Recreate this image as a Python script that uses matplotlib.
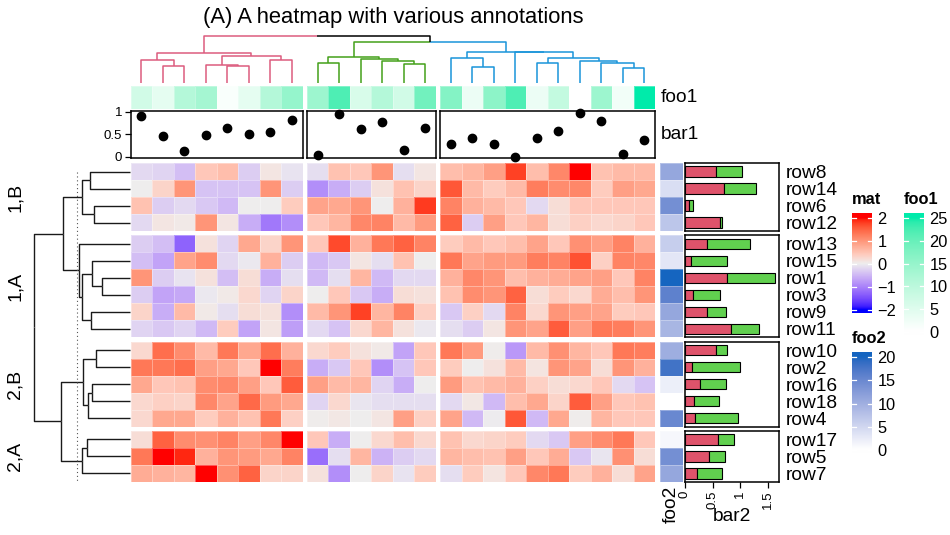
import numpy as np
import matplotlib
matplotlib.use("Agg")
import matplotlib.pyplot as plt
from matplotlib.colors import ListedColormap, Normalize

plt.rcParams['font.family'] = ['Liberation Sans', 'DejaVu Sans']

# ---------------- data ----------------
title = "(A) A heatmap with various annotations"
row_slice_titles = ["1,B", "1,A", "2,B", "2,A"]
row_names = [["row8", "row14", "row6", "row12"],
             ["row13", "row15", "row1", "row3", "row9", "row11"],
             ["row10", "row2", "row16", "row18", "row4"],
             ["row17", "row5", "row7"]]
col_slice_sizes = [8, 6, 10]

# heatmap values, rows in display order; columns: slice1 (8) | slice2 (6) | slice3 (10)
mat_values = [
    [-0.2, -0.25, -0.45, 0.45, 0.55, -0.3, 0.1, -0.1,   -0.15, 0.5, 0.45, 1.0, -0.15, 0.1,   0.55, 0.65, 0.9, 1.75, 0.55, 1.15, 2.1, 0.5, 0.6, 0.6],
    [0.0, 0.3, 1.0, -0.4, -0.4, -0.4, 1.0, -0.3,        -0.9, -0.6, -0.3, 0.15, 0.5, 0.3,    1.6, 0.6, 0.4, 0.6, 1.25, 1.1, 1.15, 0.4, 0.9, 0.8],
    [0.5, -0.3, -0.2, -0.35, -0.5, 0.0, 0.0, 0.4,       0.85, 0.8, 1.0, 0.0, 0.7, 1.8,       1.2, 0.7, 0.6, 0.45, -0.2, 0.2, 0.45, 0.45, 0.45, 0.45],
    [-0.2, 0.1, 0.05, 1.0, 0.1, -0.6, -1.1, -0.9,       0.45, 0.65, 1.15, 1.2, 0.6, 0.95,    1.5, -0.3, 0.9, 0.45, 0.65, 0.2, 0.35, 0.25, 0.3, 0.45],
    [-0.3, -0.45, -1.3, 0.15, -0.25, 0.8, 0.3, 1.0,     0.45, 1.7, 0.7, 1.3, 1.5, 1.2,       0.4, 0.6, 0.45, 0.55, 0.85, 0.45, 1.05, 0.9, 1.2, 0.7],
    [-0.45, -0.7, 0.85, 1.1, -0.2, -0.05, 0.7, -0.3,    -0.5, -0.35, 0.1, -0.15, 0.5, 0.0,   1.3, 0.85, 0.95, 0.95, 1.25, 1.2, 1.65, 0.35, 1.2, 1.15],
    [1.0, -0.3, -0.1, 0.15, -0.45, 0.2, -0.6, -0.15,    -0.5, -0.15, 0.65, -0.5, -0.2, -0.2, 0.7, 1.15, 1.0, 0.55, 0.7, 0.75, 0.85, 0.9, 0.45, 1.2],
    [-0.3, -0.7, -0.65, -0.05, 0.05, 0.25, -0.25, 0.3,  0.0, 0.45, -0.35, -0.6, 0.2, 0.15,   0.5, 1.1, 1.0, 1.5, 0.2, 0.4, 0.25, 0.75, 0.55, 1.0],
    [0.3, -0.6, 0.6, 0.05, -0.15, 0.2, 0.15, -0.9,      0.6, 1.0, 1.75, 0.65, 1.2, 0.35,     -0.35, 0.35, -0.2, 1.2, 0.25, 1.0, 0.9, 0.85, 0.4, 0.45],
    [-0.25, -0.35, -0.25, -0.5, 0.4, -0.7, 0.1, -0.75,  -0.2, -0.4, 0.25, 0.65, 0.15, -0.05, -0.15, -0.3, 0.1, 1.0, 0.85, 1.55, 0.9, 1.3, 1.25, 1.0],
    [0.25, 1.4, 1.1, 0.6, 1.3, 0.8, 1.4, 0.7,           0.25, 0.4, 0.15, 0.05, -0.7, 0.45,   1.3, 0.95, 0.03, -0.8, 0.6, 1.05, 0.65, 0.45, 1.3, 1.25],
    [1.3, 1.3, 1.4, 0.9, 0.8, 0.45, 2.0, 1.25,          -0.6, -0.35, 0.45, -0.9, -0.4, 0.45, 0.4, 0.0, 0.15, 0.6, 0.12, 1.0, 0.85, 0.2, 1.0, 0.7],
    [0.8, 0.45, 0.5, 1.1, 1.15, 0.9, 0.45, 1.55,        0.9, 0.6, 0.65, -0.25, -0.6, 0.0,    0.95, 0.5, 0.6, 0.7, 0.35, 0.2, 0.25, 0.45, -0.2, -0.4],
    [0.25, 0.35, 0.3, 1.15, 0.85, 1.45, 0.95, 0.8,      -0.25, 0.25, -0.08, -0.15, -0.15, -0.15, -0.2, 0.08, -0.5, 0.55, 0.8, 0.3, 1.55, 0.9, 0.45, 0.5],
    [0.25, 0.8, 0.8, 0.4, 0.7, 0.5, 1.3, 0.35,          0.03, 0.08, 0.0, 0.1, 0.9, 0.35,     0.85, -0.5, -0.03, 1.6, -0.5, 0.8, 0.03, 0.65, 0.45, 0.45],
    [0.2, 1.5, 1.1, 1.05, 1.2, 0.9, 1.15, 2.0,          0.45, -0.6, 0.0, 0.25, 0.55, 0.25,   0.5, 0.25, 0.3, 0.4, -0.2, -0.35, 0.9, 1.1, 1.3, 0.45],
    [1.3, 2.0, 1.9, 0.7, 1.0, 0.95, 0.8, 1.2,           -1.2, -0.15, 0.65, -0.55, -0.3, -0.2, 0.65, 0.55, 0.5, 0.9, 0.45, 0.75, -0.35, -0.08, 1.05, 0.2],
    [0.75, 0.7, 0.65, 2.0, 1.05, 1.5, 0.3, 0.3,         0.15, -0.9, 0.0, 0.3, -0.1, 0.4,     -0.15, 0.4, 0.12, 0.45, 1.15, 1.3, 0.4, 0.7, 0.2, 0.85],
]

foo1_values = [7, 4, 11, 13, 1, 4, 11, 15,  14, 22, 6, 11, 7, 19,  17, 3, 16, 22, 3, 9, 0, 14, 2, 25]
bar1_values = [0.90, 0.45, 0.12, 0.48, 0.64, 0.50, 0.55, 0.82,
               0.04, 0.95, 0.62, 0.76, 0.14, 0.64,
               0.28, 0.41, 0.27, 0.00, 0.42, 0.57, 0.96, 0.79, 0.06, 0.36]
foo2_values = [11, 4, 14, 7,  6, 3, 20, 16, 11, 9,  10, 18, 2, 0, 15,  1, 14, 11]
bar2_red = [0.57, 0.70, 0.08, 0.64,  0.39, 0.10, 0.76, 0.15, 0.40, 0.83,
            0.57, 0.13, 0.27, 0.16, 0.19,  0.60, 0.43, 0.22]
bar2_green = [0.47, 0.58, 0.07, 0.03,  0.78, 0.66, 0.87, 0.49, 0.35, 0.51,
              0.19, 0.86, 0.48, 0.46, 0.78,  0.28, 0.30, 0.45]

# dendrograms: (left, right, merge height); ints are leaf indices within a slice
col_trees = [
    ((0, (1, 2, 53), 70), ((3, (4, 5, 53), 54), (6, 7, 70), 82), 90),
    ((0, 1, 60), (2, (3, (4, 5, 57), 68), 73), 78),
    ((0, (1, 2, 50), 75), (3, ((4, 5, 60), (6, (7, (8, 9, 47), 60), 68), 75), 93), 95),
]
col_parent_tree = (0, (1, 2, 123), 142)
row_trees = [
    ((0, 1, 40.0), (2, 3, 35.5), 47.5),
    (0, ((1, (2, 3, 28.0), 38.0), (4, 5, 39.0), 48.0), 50.5),
    ((0, 1, 34.0), ((2, 3, 38.0), 4, 42.0), 46.5),
    ((0, 1, 43.0), 2, 47.5),
]
row_parent_tree = ((0, 1, 67.0), (2, 3, 69.0), 95.5)
row_cut_height = 53.0

# ---------------- styling / layout (pixels) ----------------
W, H = 950, 535
fig = plt.figure(figsize=(W / 100, H / 100), dpi=100)

def ax_px(x0, y0, x1, y1):
    return fig.add_axes([x0 / W, 1 - y1 / H, (x1 - x0) / W, (y1 - y0) / H])

def fx(x):
    return x / W

def fy(y):
    return 1 - y / H

# LAB colour interpolation (like colorRamp2)
_M = np.array([[0.4124564, 0.3575761, 0.1804375],
               [0.2126729, 0.7151522, 0.0721750],
               [0.0193339, 0.1191920, 0.9503041]])
_WHITE = _M @ np.ones(3)

def rgb2lab(rgb):
    rgb = np.asarray(rgb, float)
    lin = np.where(rgb <= 0.04045, rgb / 12.92, ((rgb + 0.055) / 1.055) ** 2.4)
    xyz = lin @ _M.T / _WHITE
    d = 6 / 29
    f = np.where(xyz > d ** 3, np.cbrt(xyz), xyz / (3 * d * d) + 4 / 29)
    return np.stack([116 * f[..., 1] - 16, 500 * (f[..., 0] - f[..., 1]),
                     200 * (f[..., 1] - f[..., 2])], -1)

def lab2rgb(lab):
    L, a, b = lab[..., 0], lab[..., 1], lab[..., 2]
    fyv = (L + 16) / 116
    f = np.stack([fyv + a / 500, fyv, fyv - b / 200], -1)
    d = 6 / 29
    xyz = np.where(f > d, f ** 3, 3 * d * d * (f - 4 / 29)) * _WHITE
    lin = np.clip(xyz @ np.linalg.inv(_M).T, 0, 1)
    rgb = np.where(lin <= 0.0031308, 12.92 * lin, 1.055 * lin ** (1 / 2.4) - 0.055)
    return np.clip(rgb, 0, 1)

def lab_cmap(breaks, hexcols, n=256):
    labs = rgb2lab(np.array([matplotlib.colors.to_rgb(c) for c in hexcols]))
    v = np.linspace(breaks[0], breaks[-1], n)
    out = np.stack([np.interp(v, breaks, labs[:, k]) for k in range(3)], -1)
    return ListedColormap(lab2rgb(out)), Normalize(breaks[0], breaks[-1])

mat_cmap, mat_norm = lab_cmap([-2, 0, 2], ["#0000FF", "#EEEEEE", "#FF0000"])
foo1_cmap, foo1_norm = lab_cmap([0, 25], ["#FFFFFF", "#00EBAA"])
foo2_cmap, foo2_norm = lab_cmap([0, 20], ["#FFFFFF", "#1565C0"])

BAR_RED, BAR_GREEN = "#DF536B", "#61D04F"
SLICE_COLORS = ["#DC5C7E", "#44A01A", "#1A95DA"]
FS_LAB = 13.8

HM_LEFT, CELL_W, GAP = 130.5, 21.5, 4.3
HM_TOP, CELL_H = 163.0, 17.0

col_ranges = []
x = HM_LEFT
for n in col_slice_sizes:
    col_ranges.append((x, x + n * CELL_W))
    x += n * CELL_W + GAP
row_ranges = []
y = HM_TOP
for names in row_names:
    row_ranges.append((y, y + len(names) * CELL_H))
    y += len(names) * CELL_H + GAP
HM_RIGHT = col_ranges[-1][1]
HM_BOTTOM = row_ranges[-1][1]

mat = np.array(mat_values)
col_idx = np.cumsum([0] + col_slice_sizes)
row_idx = np.cumsum([0] + [len(r) for r in row_names])

def clean(ax):
    ax.set_xticks([])
    ax.set_yticks([])
    for s in ax.spines.values():
        s.set_visible(False)

# ---------------- heatmap body ----------------
for i, (y0, y1) in enumerate(row_ranges):
    for j, (x0, x1) in enumerate(col_ranges):
        ax = ax_px(x0, y0, x1, y1)
        sub = mat[row_idx[i]:row_idx[i + 1], col_idx[j]:col_idx[j + 1]]
        ax.pcolormesh(sub, cmap=mat_cmap, norm=mat_norm,
                      edgecolors=(1, 1, 1, 0.35), linewidth=0.4)
        ax.set_xlim(0, sub.shape[1])
        ax.set_ylim(sub.shape[0], 0)
        clean(ax)

# ---------------- top annotations ----------------
foo1 = np.array(foo1_values, float)
bar1 = np.array(bar1_values, float)
for j, (x0, x1) in enumerate(col_ranges):
    ax = ax_px(x0, 86, x1, 109.3)
    ax.pcolormesh(foo1[col_idx[j]:col_idx[j + 1]].reshape(1, -1), cmap=foo1_cmap,
                  norm=foo1_norm, edgecolors=(1, 1, 1, 0.3), linewidth=0.4)
    clean(ax)
    ax = ax_px(x0, 110.7, x1, 157.7)
    vals = bar1[col_idx[j]:col_idx[j + 1]]
    ax.scatter(np.arange(len(vals)) + 0.5, vals, s=36, color="black", zorder=3, clip_on=False)
    ax.set_xlim(0, len(vals))
    ax.set_ylim(-0.025, 1.022)
    ax.set_xticks([])
    for s in ax.spines.values():
        s.set_linewidth(1.1)
    if j == 0:
        ax.set_yticks([0, 0.5, 1])
        ax.set_yticklabels(["0", "0.5", "1"], fontsize=9.5)
        ax.tick_params(axis="y", length=4, width=0.9, pad=2)
    else:
        ax.set_yticks([])

fig.text(fx(661), fy(97.6), "foo1", fontsize=FS_LAB, ha="left", va="center")
fig.text(fx(661), fy(134.2), "bar1", fontsize=FS_LAB, ha="left", va="center")

# ---------------- dendrograms ----------------
def draw_tree(ax, node, leaf_info, vertical, lw=1.0, mixed="black"):
    if not isinstance(node, tuple):
        return leaf_info[node]
    l, r, h = node
    lp, lh, lc = draw_tree(ax, l, leaf_info, vertical, lw, mixed)
    rp, rh, rc = draw_tree(ax, r, leaf_info, vertical, lw, mixed)
    mid = (lp + rp) / 2
    for p, hh, c in ((lp, lh, lc), (rp, rh, rc)):
        ps, hs = [p, p, mid], [hh, h, h]
        if vertical:
            ax.plot(ps, hs, color=c, lw=lw, clip_on=False, solid_capstyle="butt")
        else:
            ax.plot(hs, ps, color=c, lw=lw, clip_on=False, solid_capstyle="butt")
    return mid, h, (lc if lc == rc else mixed)

# column dendrogram
axd = ax_px(HM_LEFT, 36, HM_RIGHT, 83.3)
axd.set_xlim(HM_LEFT, HM_RIGHT)
axd.set_ylim(0, 142)
clean(axd)
slice_roots = {}
for j, tree in enumerate(col_trees):
    x0 = col_ranges[j][0]
    info = {k: (x0 + (k + 0.5) * CELL_W, 0.0, SLICE_COLORS[j]) for k in range(col_slice_sizes[j])}
    slice_roots[j] = draw_tree(axd, tree, info, True, lw=1.1)
draw_tree(axd, col_parent_tree, slice_roots, True, lw=1.1)

# row dendrogram
LEAF_X = 129.5
axr = ax_px(LEAF_X - 100, HM_TOP, LEAF_X, HM_BOTTOM)
axr.set_xlim(100, 0)
axr.set_ylim(HM_BOTTOM, HM_TOP)
clean(axr)
rslice_roots = {}
for i, tree in enumerate(row_trees):
    y0 = row_ranges[i][0]
    info = {k: (y0 + (k + 0.5) * CELL_H, 0.0, "#1a1a1a") for k in range(len(row_names[i]))}
    rslice_roots[i] = draw_tree(axr, tree, info, False, lw=1.0)
draw_tree(axr, row_parent_tree, rslice_roots, False, lw=1.0)
axr.plot([row_cut_height, row_cut_height], [HM_TOP + 9, HM_BOTTOM], color="#555555",
         lw=0.8, ls=(0, (1, 2.5)))

for i, (y0, y1) in enumerate(row_ranges):
    fig.text(fx(15), fy((y0 + y1) / 2), row_slice_titles[i], rotation=90,
             fontsize=14, ha="center", va="center")

# ---------------- right annotations ----------------
foo2 = np.array(foo2_values, float)
red = np.array(bar2_red)
green = np.array(bar2_green)
for i, (y0, y1) in enumerate(row_ranges):
    sl = slice(row_idx[i], row_idx[i + 1])
    ax = ax_px(660, y0, 683.3, y1)
    ax.pcolormesh(foo2[sl].reshape(-1, 1), cmap=foo2_cmap, norm=foo2_norm,
                  edgecolors=(1, 1, 1, 0.3), linewidth=0.4)
    ax.set_ylim(len(row_names[i]), 0)
    clean(ax)

    ax = ax_px(685, y0, 779.3, y1)
    pos = np.arange(len(row_names[i]))
    ax.barh(pos, red[sl], height=0.6, color=BAR_RED, edgecolor="black", linewidth=0.8)
    ax.barh(pos, green[sl], left=red[sl], height=0.6, color=BAR_GREEN, edgecolor="black", linewidth=0.8)
    ax.set_xlim(0, 1.71)
    ax.set_ylim(len(row_names[i]) - 0.5, -0.5)
    for s in ax.spines.values():
        s.set_linewidth(1.1)
    ax.yaxis.tick_right()
    ax.set_yticks(pos)
    ax.set_yticklabels(row_names[i], fontsize=FS_LAB)
    ax.tick_params(axis="y", length=0, pad=5)
    if i == len(row_ranges) - 1:
        ax.set_xticks([0, 0.5, 1, 1.5])
        ax.set_xticklabels(["0", "0.5", "1", "1.5"], fontsize=9.5, rotation=90)
        ax.tick_params(axis="x", length=4, width=0.9, pad=2)
    else:
        ax.set_xticks([])

fig.text(fx(671.7), fy(486), "foo2", rotation=90, fontsize=FS_LAB, ha="center", va="top")
fig.text(fx(732), fy(508), "bar2", fontsize=FS_LAB, ha="center", va="top")

# ---------------- title ----------------
fig.text(fx((HM_LEFT + HM_RIGHT) / 2), fy(17), title, fontsize=15.8, ha="center", va="center")

# ---------------- legends ----------------
def legend(x0, top, bot, vmin, vmax, ticks, labels, cmap, norm, name, title_y):
    ax = ax_px(x0, top, x0 + 20, bot)
    grad = np.linspace(vmin, vmax, 256).reshape(-1, 1)
    ax.imshow(grad, cmap=cmap, norm=norm, aspect="auto", origin="lower",
              extent=(0, 1, vmin, vmax), interpolation="bilinear")
    ax.set_xlim(0, 1)
    ax.set_ylim(vmin, vmax)
    for s in ax.spines.values():
        s.set_visible(False)
    ax.set_xticks([])
    ax.yaxis.tick_right()
    ax.set_yticks(ticks)
    ax.set_yticklabels(labels, fontsize=11.8)
    ax.tick_params(axis="y", length=0, pad=4)
    for t in ticks:
        ax.plot([0, 0.2], [t, t], color="white", lw=0.9)
        ax.plot([0.8, 1], [t, t], color="white", lw=0.9)
    fig.text(fx(x0), fy(title_y), name, fontsize=11.8, fontweight="bold", ha="left", va="center")

mat_ticks = [-2, -1, 0, 1, 2]
legend(851.7, 212.7, 313.3, -2.15, 2.245, mat_ticks,
       ["\u22122", "\u22121", "0", "1", "2"], mat_cmap, mat_norm, "mat", 199)
foo1_ticks = [0, 5, 10, 15, 20, 25]
legend(904, 212.7, 335.3, -0.8, 26.23, foo1_ticks, [str(t) for t in foo1_ticks],
       foo1_cmap, foo1_norm, "foo1", 199)
foo2_ticks = [0, 5, 10, 15, 20]
legend(851.7, 351.7, 453.5, -0.75, 21.2, foo2_ticks, [str(t) for t in foo2_ticks],
       foo2_cmap, foo2_norm, "foo2", 338.5)

fig.savefig("out.png", dpi=100)
